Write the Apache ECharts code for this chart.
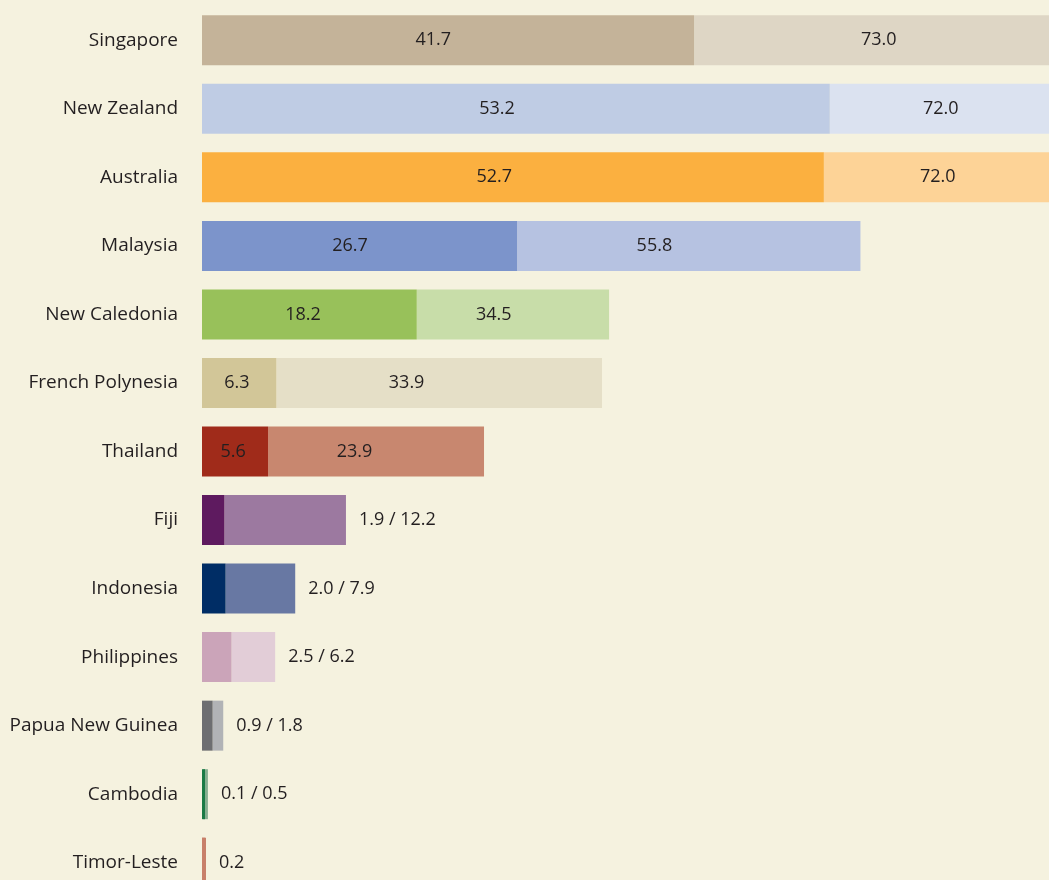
<!DOCTYPE html>
<html>
<head>
<meta charset="utf-8">
<title>Bars</title>
<script src="https://cdn.jsdelivr.net/npm/echarts@6/dist/echarts.min.js"></script>
<style>
  html, body { margin: 0; padding: 0; width: 100%; height: 100%; background: #f5f2df; }
  #main { width: 1049px; height: 880px; }
</style>
</head>
<body>
<div id="main"></div>
<script type="text/javascript">
  var countries = ['Singapore', 'New Zealand', 'Australia', 'Malaysia', 'New Caledonia',
    'French Polynesia', 'Thailand', 'Fiji', 'Indonesia', 'Philippines',
    'Papua New Guinea', 'Cambodia', 'Timor-Leste'];
  // first (dark) value and second (light, longer) value
  var firstVals = [41.7, 53.2, 52.7, 26.7, 18.2, 6.3, 5.6, 1.9, 2.0, 2.5, 0.9, 0.1, null];
  var secondVals = [73.0, 72.0, 72.0, 55.8, 34.5, 33.9, 23.9, 12.2, 7.9, 6.2, 1.8, 0.5, 0.2];
  var darkColors = ['#c4b399', '#bfcce4', '#fbb040', '#7c94cb', '#98c15a', '#d2c698',
    '#a02b1a', '#5e1a5f', '#002d65', '#cba4b9', '#6d6e71', '#1a7a45', '#c8806a'];
  var lightColors = ['#ded6c5', '#dbe2f0', '#fdd397', '#b6c2e1', '#c8dda9', '#e5dfc7',
    '#c8876f', '#9c79a0', '#6878a3', '#e2cdd7', '#b1b3b6', '#86ae90', '#c8806a'];

  var txt = '#231f20';
  var font = '"Open Sans", sans-serif';

  var darkData = [], lightData = [];
  countries.forEach(function (c, i) {
    var a = firstVals[i], b = secondVals[i];
    var inside = b > 20;
    darkData.push({
      value: a == null ? 0 : a,
      itemStyle: { color: darkColors[i] },
      label: { show: inside }
    });
    var lbl;
    if (inside) {
      lbl = {
        show: true,
        position: b >= 70 ? ['50%', '50%'] : ['40%', '50%'],
        align: 'center', verticalAlign: 'middle',
        formatter: b.toFixed(1)
      };
    } else {
      lbl = {
        show: true,
        position: 'right',
        distance: 13,
        formatter: a == null ? b.toFixed(1) : a.toFixed(1) + ' / ' + b.toFixed(1)
      };
    }
    lightData.push({
      value: +(b - (a || 0)).toFixed(2),
      itemStyle: { color: lightColors[i] },
      label: lbl
    });
  });

  var chart = echarts.init(document.getElementById('main'));
  chart.setOption({
    backgroundColor: '#f5f2df',
    animation: false,
    // the value axis runs past the right edge, so the longest bars are cut off
    grid: { left: 202, top: 6, width: 944, height: 891, outerBoundsMode: 'none' },
    xAxis: {
      type: 'value', min: 0, max: 80, show: false,
      splitLine: { show: false }
    },
    yAxis: {
      type: 'category', data: countries, inverse: true,
      axisLine: { show: false }, axisTick: { show: false },
      axisLabel: { color: txt, fontSize: 19, fontFamily: font, margin: 24 }
    },
    series: [{
      type: 'bar', stack: 'v', barWidth: 50, barMinHeight: 3, z: 3,
      data: darkData,
      label: {
        position: ['47%', '50%'], align: 'center', verticalAlign: 'middle',
        color: txt, fontSize: 18, fontFamily: font,
        formatter: function (p) { return p.value.toFixed(1); }
      }
    }, {
      type: 'bar', stack: 'v', barWidth: 50, barMinHeight: 4,
      data: lightData,
      label: { color: txt, fontSize: 18, fontFamily: font }
    }]
  });
  window.addEventListener('resize', function () { chart.resize(); });
</script>
</body>
</html>
